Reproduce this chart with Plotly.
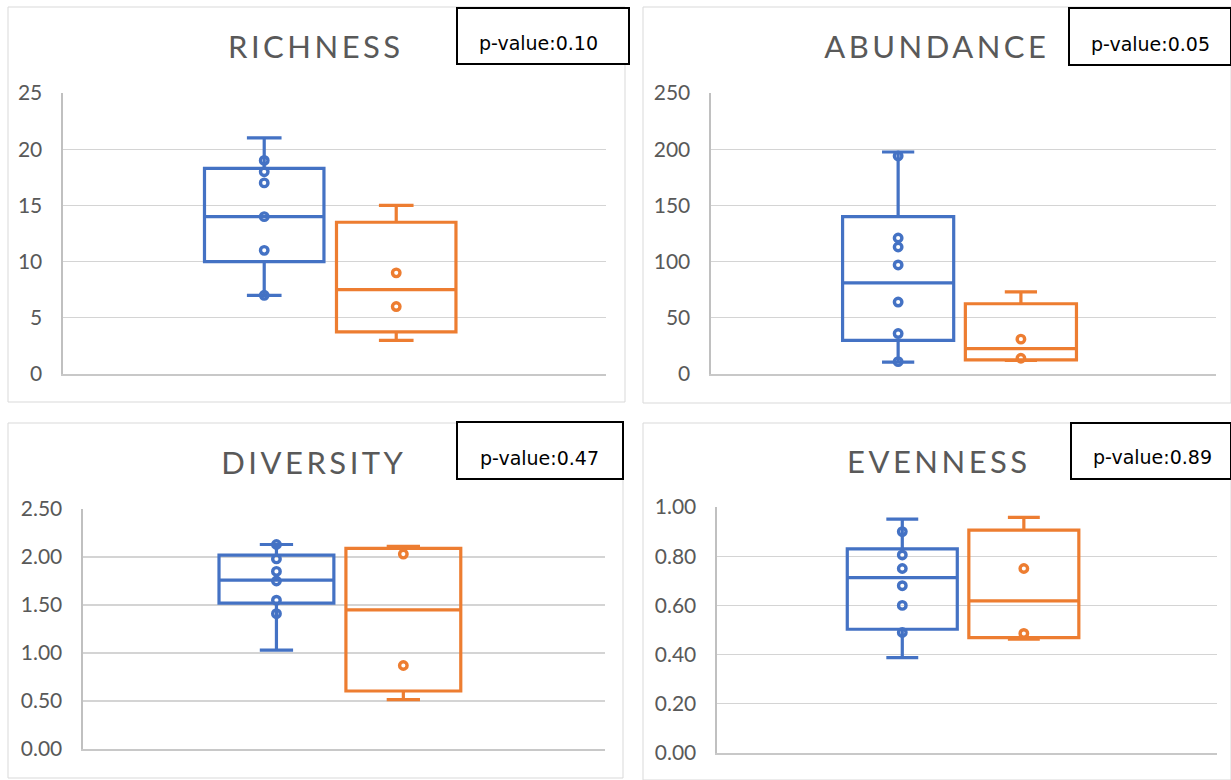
import plotly.graph_objects as go

W, H = 1231, 780
BLUE = "#4472C4"
ORANGE = "#ED7D31"

# ---------------- data ----------------
metrics = ["RICHNESS", "ABUNDANCE", "DIVERSITY", "EVENNESS"]
p_values = ["0.10", "0.05", "0.47", "0.89"]

# blue group: box statistics per metric
blue_q1 = [10.0, 30.0, 1.52, 0.503]
blue_median = [14.0, 81.0, 1.76, 0.713]
blue_q3 = [18.3, 140.0, 2.02, 0.83]
blue_low = [7.0, 10.5, 1.03, 0.388]
blue_high = [21.0, 197.5, 2.13, 0.951]
blue_richness_pts = [7, 11, 14, 17, 18, 19]
blue_abundance_pts = [11, 36, 64, 97, 113, 121, 194]
blue_diversity_pts = [1.41, 1.55, 1.75, 1.85, 1.98, 2.13]
blue_evenness_pts = [0.49, 0.60, 0.68, 0.75, 0.805, 0.90]

# orange group: box statistics per metric
orange_q1 = [3.75, 12.5, 0.604, 0.469]
orange_median = [7.5, 22.5, 1.45, 0.618]
orange_q3 = [13.5, 62.5, 2.09, 0.906]
orange_low = [3.0, 12.0, 0.515, 0.463]
orange_high = [15.0, 73.0, 2.11, 0.958]
orange_richness_pts = [6, 9]
orange_abundance_pts = [14, 31]
orange_diversity_pts = [0.87, 2.03]
orange_evenness_pts = [0.486, 0.75]

# axes
y_max = [25, 250, 2.5, 1.0]
y_dtick = [5, 50, 0.5, 0.2]
y_format = ["d", "d", ".2f", ".2f"]
# --------------------------------------

blue_pts = [blue_richness_pts, blue_abundance_pts, blue_diversity_pts, blue_evenness_pts]
orange_pts = [orange_richness_pts, orange_abundance_pts, orange_diversity_pts, orange_evenness_pts]

# layout geometry in pixels
plot_px = [(63, 606, 93, 374), (711, 1216, 93, 374), (83, 605, 509, 749), (717, 1217, 507, 753)]
border_px = [(8, 625, 7, 402), (643, 1231, 7, 403), (8, 623, 423, 778), (643, 1231, 423, 780)]
pbox_px = [(457, 629, 8, 64), (1069, 1231, 8, 65), (457, 623, 422, 479), (1071, 1231, 423, 479)]
ptext_px = [(538, 43), (1150, 44), (539, 458), (1152, 457)]
title_px = [(316, 46), (937, 46), (314, 462), (939, 461)]


def fx(x):
    return x / W


def fy(y):
    return 1 - y / H


fig = go.Figure()
cat = "S"
for i in range(4):
    xa = "x" if i == 0 else f"x{i+1}"
    ya = "y" if i == 0 else f"y{i+1}"
    for name, col, q1, med, q3, lo, hi, pts in [
        ("A", BLUE, blue_q1, blue_median, blue_q3, blue_low, blue_high, blue_pts),
        ("B", ORANGE, orange_q1, orange_median, orange_q3, orange_low, orange_high, orange_pts),
    ]:
        fig.add_trace(go.Box(
            x=[cat], y=[pts[i]], q1=[q1[i]], median=[med[i]], q3=[q3[i]],
            lowerfence=[lo[i]], upperfence=[hi[i]],
            orientation="v", name=name, offsetgroup=name,
            boxpoints="all", jitter=0, pointpos=0,
            line=dict(color=col, width=3.2), fillcolor="rgba(0,0,0,0)",
            whiskerwidth=0.29,
            marker=dict(symbol="circle-open", size=7.5, color=col, line=dict(width=3.4)),
            xaxis=xa, yaxis=ya, showlegend=False, hoverinfo="skip",
        ))

layout = dict(
    width=W, height=H, autosize=False,
    margin=dict(l=0, r=0, t=0, b=0, pad=0, autoexpand=False),
    paper_bgcolor="white", plot_bgcolor="white",
    boxmode="group", boxgap=0.506, boxgroupgap=0.095,
    showlegend=False,
)
shapes = []
annotations = []
for i in range(4):
    x0, x1, y0, y1 = plot_px[i]
    sx = "" if i == 0 else str(i + 1)
    layout[f"xaxis{sx}"] = dict(
        domain=[fx(x0), fx(x1)], anchor=f"y{sx}", type="category", automargin=False,
        range=[-0.5, 0.516], showticklabels=False, showgrid=False, zeroline=False,
        showline=True, linecolor="#C8C8C8", linewidth=2, ticks="", fixedrange=True,
    )
    layout[f"yaxis{sx}"] = dict(
        domain=[fy(y1), fy(y0)], anchor=f"x{sx}", range=[0, y_max[i]], automargin=False,
        dtick=y_dtick[i], tick0=0, tickformat=y_format[i], fixedrange=True,
        showgrid=True, gridcolor="#D4D4D4", gridwidth=1.4, zeroline=False,
        showline=True, linecolor="#C0C0C0", linewidth=2.5,
        ticks="", ticklabelstandoff=14,
        tickfont=dict(family="Lato", size=21, color="#595959"),
    )
    bx0, bx1, by0, by1 = border_px[i]
    shapes.append(dict(type="rect", xref="paper", yref="paper", layer="below",
                       x0=fx(bx0), x1=fx(bx1), y0=fy(by1), y1=fy(by0),
                       line=dict(color="#D9D9D9", width=1)))
    px0, px1, py0, py1 = pbox_px[i]
    shapes.append(dict(type="rect", xref="paper", yref="paper", layer="above",
                       x0=fx(px0), x1=fx(px1), y0=fy(py1), y1=fy(py0),
                       fillcolor="white", line=dict(color="black", width=2)))
    tx, ty = ptext_px[i]
    annotations.append(dict(xref="paper", yref="paper", x=fx(tx), y=fy(ty),
                            xanchor="center", yanchor="middle", showarrow=False,
                            text=f"p-value:{p_values[i]}",
                            font=dict(family="DejaVu Sans", size=19, color="black")))
    ttx, tty = title_px[i]
    annotations.append(dict(xref="paper", yref="paper", x=fx(ttx), y=fy(tty),
                            xanchor="center", yanchor="middle", showarrow=False,
                            text=metrics[i],
                            font=dict(family="Lato", size=31, color="#595959", weight=400)))

layout["shapes"] = shapes
layout["annotations"] = annotations
fig.update_layout(**layout)

js = """
document.body.style.margin = '0px';
document.body.style.overflow = 'hidden';
var gd = document.getElementById('{plot_id}');
var names = ["RICHNESS", "ABUNDANCE", "DIVERSITY", "EVENNESS"];
gd.querySelectorAll('text.annotation-text').forEach(function(t){
  if (names.indexOf(t.textContent) >= 0) { t.style.letterSpacing = '3.5px'; }
});
"""
fig.write_html("out.html", post_script=js, config={"displayModeBar": False, "staticPlot": True})
